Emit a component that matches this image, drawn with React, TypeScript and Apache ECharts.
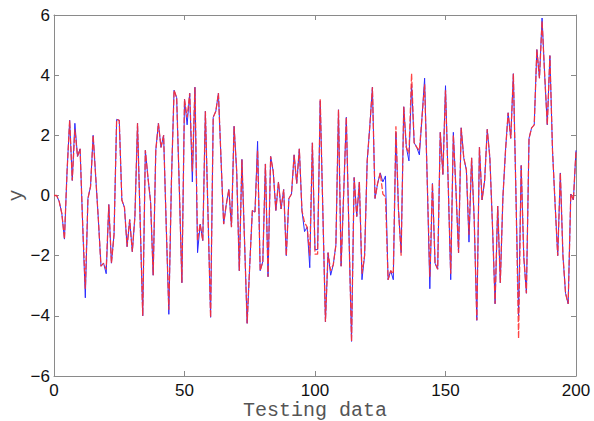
import React, { useEffect, useRef } from "react";
import * as echarts from "echarts";

const xTicks = [0, 50, 100, 150, 200];
const yTicks = [-6, -4, -2, 0, 2, 4, 6];

const actualValues = [
  0, 0, -0.2, -0.6, -1.45, 0.8, 2.5, 0.5, 2.4, 1.3,
  1.55, -1.0, -3.4, -0.1, 0.3, 2.0, 0.6, -0.8, -2.35, -2.25,
  -2.6, -0.3, -2.25, -1.3, 2.53, 2.5, -0.15, -0.4, -1.7, -0.8,
  -1.87, -0.7, 2.4, -0.8, -4.0, 1.5, 0.6, -0.2, -2.65, 1.5,
  2.4, 1.6, 2.0, -1.0, -3.95, 0.5, 3.5, 3.25, 0.3, -2.9,
  3.2, 2.35, 3.4, 0.45, 3.6, -1.9, -0.95, -1.5, 2.8, -0.6,
  -4.05, 2.6, 2.8, 3.4, 1.2, -0.95, -0.3, 0.2, -1.05, 2.3,
  0.8, -2.5, 1.2, -1.5, -4.25, -2.3, -0.5, -0.55, 1.8, -2.5,
  -2.2, 1.05, -2.7, 1.3, 0.8, -0.5, 0.45, -0.45, 0.2, -2.0,
  -0.1, 0.05, 1.35, 0.4, 1.55, -0.5, -1.2, -1.05, -2.4, 1.75,
  -1.8, -1.8, 3.15, -0.5, -4.2, -1.9, -2.65, -2.3, -1.65, 2.85,
  -2.35, 0.1, 2.6, -1.2, -4.85, 0.6, -0.7, 0.45, -2.8, -2.0,
  1.15, 2.3, 3.6, -0.1, 0.4, 0.75, 0.45, 0.65, -2.8, -2.5,
  -2.8, 2.1, -0.5, -1.9, 2.95, 1.6, 1.15, 3.7, 1.75, 1.6,
  1.35, 2.6, 3.9, 0.5, -3.1, 0.4, -2.25, -2.45, 2.1, 0.7,
  3.65, 0.5, -2.8, 2.1, 0.2, -1.9, 2.25, 1.25, 0.85, -1.55,
  1.25, -0.8, -4.15, 1.6, -0.15, 0.5, 2.2, 1.25, -1.0, -3.6,
  -0.35, -2.9, -0.05, 1.5, 2.75, 1.9, 4.05, 0.0, -4.0, 1.0,
  -2.05, -3.25, 1.9, 2.25, 2.35, 4.85, 3.9, 5.9, 4.0, 2.35,
  4.65, 1.5, -0.3, -2.0, 0.75, -2.0, -3.25, -3.6, 0.05, -0.15,
  1.5,
];

const predictedValues = [
  0, 0, -0.2, -0.6, -1.45, 0.8, 2.5, 0.5, 2.2, 1.3,
  1.55, -1.0, -3.1, -0.1, 0.3, 2.0, 0.6, -0.8, -2.35, -2.25,
  -2.45, -0.3, -2.25, -1.3, 2.53, 2.5, -0.15, -0.4, -1.7, -0.8,
  -1.87, -0.7, 2.4, -0.8, -4.0, 1.5, 0.6, -0.2, -2.65, 1.5,
  2.4, 1.6, 2.0, -1.0, -3.8, 0.5, 3.5, 3.25, 0.3, -2.9,
  3.2, 2.6, 3.4, 0.8, 3.6, -1.5, -0.95, -1.5, 2.8, -0.6,
  -4.05, 2.6, 2.8, 3.4, 1.2, -0.95, -0.3, 0.2, -1.05, 2.3,
  0.8, -2.5, 1.2, -1.5, -4.25, -2.3, -0.5, -0.55, 1.5, -2.5,
  -2.2, 1.05, -2.7, 1.3, 0.8, -0.5, 0.45, -0.45, 0.2, -2.0,
  -0.1, 0.05, 1.35, 0.4, 1.55, -0.5, -0.9, -1.05, -2.0, 1.75,
  -1.95, -1.95, 3.2, -0.5, -4.2, -1.9, -2.5, -2.3, -1.65, 2.85,
  -2.35, 0.1, 2.6, -1.2, -4.85, 0.6, -0.7, 0.45, -2.6, -2.0,
  1.15, 2.3, 3.6, -0.1, 0.4, 0.75, 0.05, -0.05, -2.8, -2.5,
  -2.6, 2.3, -0.5, -2.0, 2.95, 1.6, 1.4, 4.05, 1.75, 1.6,
  1.5, 2.6, 3.7, 0.5, -2.7, 0.4, -2.25, -2.45, 2.1, 0.7,
  3.5, 0.5, -2.6, 2.0, 0.2, -1.9, 2.25, 1.25, 0.85, -1.3,
  1.25, -0.8, -4.15, 1.6, -0.15, 0.5, 2.2, 1.25, -1.0, -3.6,
  -0.35, -2.9, -0.05, 1.5, 2.75, 1.9, 4.05, 0.0, -4.75, 1.0,
  -2.05, -3.25, 1.9, 2.25, 2.35, 4.85, 3.9, 5.8, 4.0, 2.35,
  4.65, 1.5, -0.3, -2.0, 0.75, -2.0, -3.25, -3.6, 0.05, -0.15,
  1.5,
];

const xName = "Testing data";
const yName = "y";

export default function App() {
  const ref = useRef<HTMLDivElement>(null);

  useEffect(() => {
    if (!ref.current) return;
    const chart = echarts.init(ref.current, null, { renderer: "svg" });
    const axisGray = "#8a8a8a";
    const toPairs = (arr: number[]) => arr.map((v, i) => [i, v]);
    const fmt = (v: number) => String(v).replace("-", "\u2212");
    const line = { show: true, onZero: false, lineStyle: { color: axisGray, width: 1 } };
    const tick = { show: true, inside: true, length: 5, lineStyle: { color: axisGray } };

    chart.setOption({
      animation: false,
      backgroundColor: "#ffffff",
      grid: {
        left: 54,
        right: 18,
        top: 15,
        bottom: 45,
        show: false,
        containLabel: false,
        outerBoundsMode: "none",
      },
      xAxis: [
        {
          type: "value",
          min: xTicks[0],
          max: xTicks[xTicks.length - 1],
          interval: 50,
          position: "bottom",
          name: xName,
          nameLocation: "middle",
          nameGap: 24,
          nameMoveOverlap: false,
          nameTextStyle: {
            fontFamily: "Liberation Mono",
            fontSize: 20,
            color: "#555555",
          },
          axisLine: line,
          axisTick: tick,
          axisLabel: {
            show: true,
            margin: 6,
            fontFamily: "Liberation Sans",
            fontSize: 17,
            color: "#111111",
            formatter: fmt,
          },
          splitLine: { show: false },
        },
        {
          type: "value",
          min: xTicks[0],
          max: xTicks[xTicks.length - 1],
          interval: 50,
          position: "top",
          axisLine: line,
          axisTick: tick,
          axisLabel: { show: false },
          splitLine: { show: false },
        },
      ],
      yAxis: [
        {
          type: "value",
          min: yTicks[0],
          max: yTicks[yTicks.length - 1],
          interval: 2,
          position: "left",
          name: yName,
          nameLocation: "middle",
          nameGap: 28,
          nameRotate: 90,
          nameMoveOverlap: false,
          nameTextStyle: {
            fontFamily: "Liberation Mono",
            fontSize: 20,
            color: "#555555",
          },
          axisLine: line,
          axisTick: tick,
          axisLabel: {
            show: true,
            margin: 4,
            fontFamily: "Liberation Sans",
            fontSize: 17,
            color: "#111111",
            formatter: fmt,
          },
          splitLine: { show: false },
        },
        {
          type: "value",
          min: yTicks[0],
          max: yTicks[yTicks.length - 1],
          interval: 2,
          position: "right",
          axisLine: line,
          axisTick: tick,
          axisLabel: { show: false },
          splitLine: { show: false },
        },
      ],
      series: [
        {
          type: "line",
          name: "actual",
          xAxisIndex: 0,
          yAxisIndex: 0,
          data: toPairs(actualValues),
          showSymbol: false,
          symbol: "none",
          lineStyle: { color: "#2a2aff", width: 1 },
          z: 2,
        },
        {
          type: "line",
          name: "predicted",
          xAxisIndex: 0,
          yAxisIndex: 0,
          data: toPairs(predictedValues),
          showSymbol: false,
          symbol: "none",
          lineStyle: { color: "#ff3030", width: 1.3, type: [6, 2], opacity: 0.9 },
          z: 3,
        },
      ],
    });

    return () => chart.dispose();
  }, []);

  return (
    <div
      ref={ref}
      style={{ position: "fixed", left: 0, top: 0, width: 594, height: 421, background: "#fff" }}
    />
  );
}
